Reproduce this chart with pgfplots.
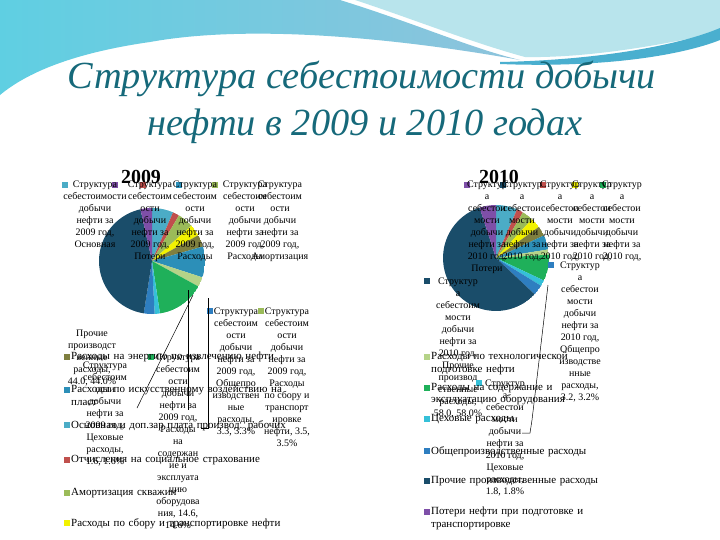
\documentclass[border=0pt]{standalone}
\usepackage{fontspec}
\setmainfont{Liberation Serif}
\usepackage{pgfplots}
\pgfplotsset{compat=1.18}
\usepgfplotslibrary{polar}
\definecolor{c1}{HTML}{4BACC6}
\definecolor{c2}{HTML}{C0504D}
\definecolor{c3}{HTML}{9BBB59}
\definecolor{c4}{HTML}{F2F200}
\definecolor{c5}{HTML}{7F7F3F}
\definecolor{c6}{HTML}{2C8FB8}
\definecolor{c7}{HTML}{B5D388}
\definecolor{c8}{HTML}{1FB05A}
\definecolor{c9}{HTML}{35C0D8}
\definecolor{c10}{HTML}{2E7EC0}
\definecolor{c11}{HTML}{1A4D6A}
\definecolor{c12}{HTML}{7E4FA8}
\definecolor{titlec}{HTML}{16697A}
\definecolor{bgA}{HTML}{8EC3DC}
\definecolor{bgB}{HTML}{5FCFE2}
\definecolor{bgC}{HTML}{B8E4EC}
\definecolor{bgD}{HTML}{4AAFCF}
\newcommand\col[3]{\node[anchor=north,align=center,inner sep=0pt,font=\fontsize{10}{12}\selectfont] at (#1bp,-#2bp) {#3};}
\newcommand\sq[3]{\fill[#3] (#1bp,-#2bp) rectangle ++(6bp,-6bp);}
\newcommand\legent[5]{\fill[#3] (#1bp,-#2bp-2bp) rectangle ++(6bp,-6bp);
  \node[anchor=north west,text width=#4bp,align=left,inner sep=0pt,font=\fontsize{11}{12.5}\selectfont] at (#1bp+7bp,-#2bp) {#5};}
\newcommand\piewedges[1]{%
  \gdef\acur{90}%
  \foreach \v/\cc in {#1}{%
    \pgfmathsetmacro\bnew{\acur-3.6*\v}%
    \edef\temp{\noexpand\addplot[fill=\cc,draw=none,domain=\bnew:\acur,samples=40] ({x},{1}) -- (axis cs:0,0) -- cycle;}%
    \temp
    \xdef\acur{\bnew}%
  }}
\begin{document}
\begin{tikzpicture}
\fill[white] (0,0) rectangle (720bp,-540bp);
\path[use as bounding box] (0,0) rectangle (720bp,-540bp);
% decorative top waves
\shade[left color=bgB,right color=bgA] (0,0) -- (340bp,0) .. controls (420bp,-25bp) and (470bp,-48bp) .. (520bp,-60bp)
  .. controls (420bp,-42bp) and (260bp,-22bp) .. (150bp,-42bp) .. controls (80bp,-52bp) and (30bp,-70bp) .. (0,-95bp) -- cycle;
\fill[bgC] (355bp,0) -- (720bp,0) -- (720bp,-32bp) .. controls (650bp,-48bp) and (580bp,-58bp) .. (525bp,-57bp)
  .. controls (470bp,-42bp) and (410bp,-18bp) .. (355bp,0) -- cycle;
\fill[bgD] (500bp,-62bp) .. controls (600bp,-60bp) and (680bp,-45bp) .. (720bp,-28bp) -- (720bp,-40bp)
  .. controls (680bp,-56bp) and (600bp,-68bp) .. (500bp,-64bp) -- cycle;
% title
\node[font=\fontsize{38.5}{46}\selectfont\itshape,text=titlec,anchor=base] at (362bp,-88bp) {Структура себестоимости добычи};
\node[font=\fontsize{38.5}{46}\selectfont\itshape,text=titlec,anchor=base] at (365bp,-135bp) {нефти в 2009 и 2010 годах};
% pies
\begin{polaraxis}[at={(152bp,-261bp)},anchor=center,width=106bp,height=106bp,scale only axis,hide axis,ymin=0,ymax=1]
\piewedges{6.5/c1,2.0/c2,4.9/c3,3.5/c4,3.7/c5,9.4/c6,3.0/c7,14.6/c8,1.6/c9,3.3/c10,44.0/c11,3.5/c12}
\end{polaraxis}
\begin{polaraxis}[at={(496bp,-258bp)},anchor=center,width=106bp,height=106bp,scale only axis,hide axis,ymin=0,ymax=1]
\piewedges{6.5/c1,2.0/c2,3.4/c3,3.1/c4,3.0/c5,4.4/c6,1.6/c7,8.0/c8,1.8/c9,3.2/c10,58.0/c11,5.0/c12}
\end{polaraxis}
% year titles
\node[font=\fontsize{20}{22}\selectfont\bfseries,anchor=base] at (141bp,-183bp) {2009};
\node[font=\fontsize{20}{22}\selectfont\bfseries,anchor=base] at (499bp,-183bp) {2010};
% 2009 top labels
\sq{62}{182}{c1}\sq{112}{182}{c12}\sq{140}{182}{c2}\sq{176}{182}{c6}\sq{212}{182}{c3}
\col{95}{181}{Структура\\себестоимости\\добычи\\нефти за\\2009 год,\\Основная}
\col{150}{181}{Структура\\себестоим\\ости\\добычи\\нефти за\\2009 год,\\Потери}
\col{195}{181}{Структура\\себестоим\\ости\\добычи\\нефти за\\2009 год,\\Расходы}
\col{245}{181}{Структура\\себестоим\\ости\\добычи\\нефти за\\2009 год,\\Расходы}
\col{280}{181}{Структура\\себестоим\\ости\\добычи\\нефти за\\2009 год,\\Амортизация}
% 2009 lower labels
\col{92}{330}{Прочие\\производст\\венные\\расходы,\\44.0, 44.0\%}
\col{105}{362}{Структура\\себестоим\\ости\\добычи\\нефти за\\2009 год,\\Цеховые\\расходы,\\1.6, 1.6\%}
\sq{148}{354}{c8}
\col{178}{354}{Структура\\себестоим\\ости\\добычи\\нефти за\\2009 год,\\Расходы\\на\\содержан\\ие и\\эксплуата\\цию\\оборудова\\ния, 14.6,\\14.6\%}
\sq{207}{308}{c10}
\col{236}{308}{Структура\\себестоим\\ости\\добычи\\нефти за\\2009 год,\\Общепро\\изводствен\\ные\\расходы,\\3.3, 3.3\%}
\sq{258}{308}{c3}
\col{287}{308}{Структура\\себестоим\\ости\\добычи\\нефти за\\2009 год,\\Расходы\\по сбору и\\транспорт\\ировке\\нефти, 3.5,\\3.5\%}
\draw[line width=0.5pt] (193bp,-295bp) -- (137bp,-408bp);
\draw[line width=0.5pt] (188bp,-290bp) -- (188bp,-410bp);
\draw[line width=0.5pt] (208bp,-298bp) -- (208bp,-428bp) -- (201bp,-428bp);
% 2009 legend column
\legent{64}{352}{c5}{230}{Расходы на энергию по извлечению нефти}
\legent{64}{385}{c6}{230}{Расходы по искусственному воздействию на пласт}
\legent{64}{420}{c1}{230}{Основная и доп.зар плата производ. рабочих}
\legent{64}{455}{c2}{230}{Отчисления на социальное страхование}
\legent{64}{488}{c3}{230}{Амортизация скважин}
\legent{64}{518}{c4}{230}{Расходы по сбору и транспортировке нефти}
% 2010 top labels
\sq{464}{182}{c12}\sq{500}{182}{c11}\sq{540}{182}{c2}\sq{572}{182}{c4}\sq{600}{182}{c8}
\col{487}{181}{Структур\\а\\себестои\\мости\\добычи\\нефти за\\2010 год,\\Потери}
\col{522}{181}{Структур\\а\\себестои\\мости\\добычи\\нефти за\\2010 год,}
\col{560}{181}{Структур\\а\\себестои\\мости\\добычи\\нефти за\\2010 год,}
\col{592}{181}{Структур\\а\\себестои\\мости\\добычи\\нефти за\\2010 год,}
\col{622}{181}{Структур\\а\\себестои\\мости\\добычи\\нефти за\\2010 год,}
% 2010 lower labels
\sq{424}{278}{c11}
\col{458}{278}{Структур\\а\\себестоим\\мости\\добычи\\нефти за\\2010 год,\\Прочие\\производ\\ственные\\расходы,\\58.0, 58.0\%}
\sq{548}{262}{c10}
\col{580}{262}{Структур\\а\\себестои\\мости\\добычи\\нефти за\\2010 год,\\Общепро\\изводстве\\нные\\расходы,\\3.2, 3.2\%}
\sq{476}{380}{c9}
\col{505}{380}{Структур\\а\\себестои\\мости\\добычи\\нефти за\\2010 год,\\Цеховые\\расходы,\\1.8, 1.8\%}
\draw[line width=0.5pt] (548bp,-285bp) -- (532bp,-420bp) -- (530bp,-433bp) -- (522bp,-433bp);
% 2010 legend column
\legent{424}{352}{c7}{160}{Расходы по технологической подготовке нефти}
\legent{424}{383}{c8}{160}{Расходы на содержание и эксплуатацию оборудования}
\legent{424}{414}{c9}{160}{Цеховые расходы}
\legent{424}{446}{c10}{160}{Общепроизводственные расходы}
\legent{424}{476}{c11}{170}{Прочие производственные расходы}
\legent{424}{507}{c12}{160}{Потери нефти при подготовке и транспортировке}
\end{tikzpicture}
\end{document}
